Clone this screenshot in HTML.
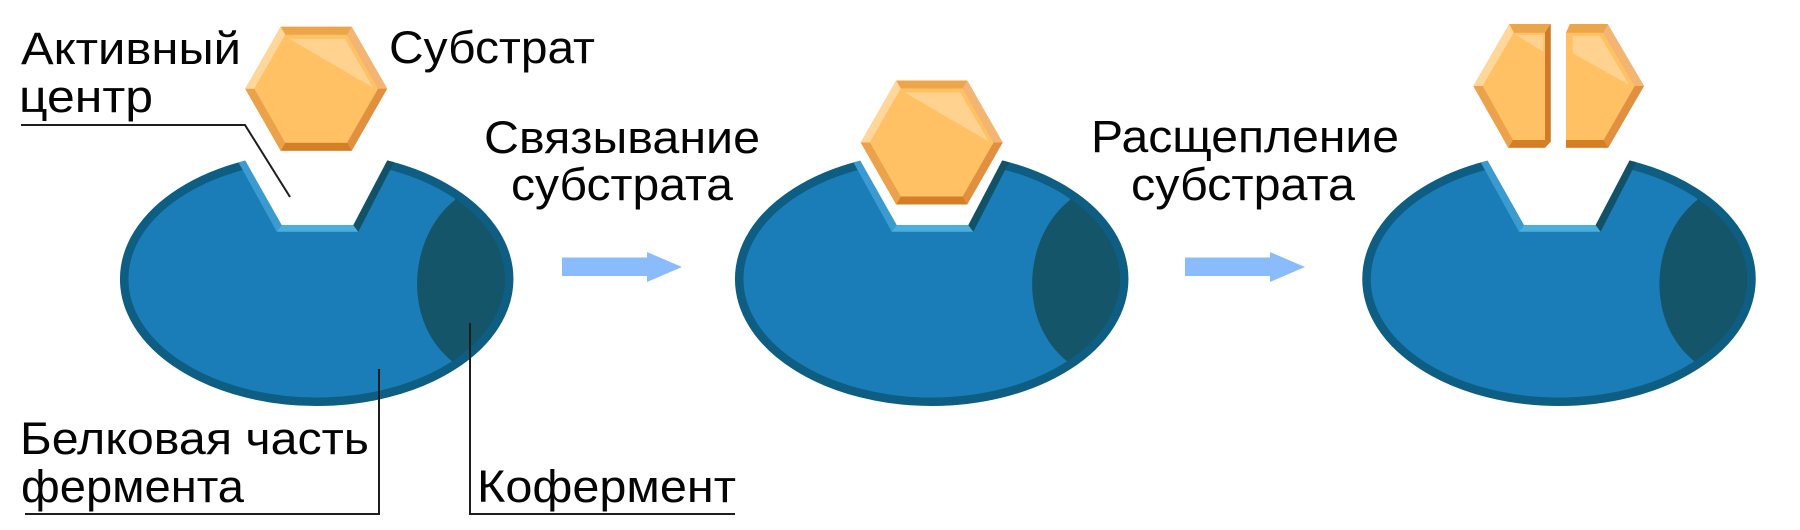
<!DOCTYPE html>
<html>
<head>
<meta charset="utf-8">
<style>
html,body{margin:0;padding:0;background:#fff;width:1800px;height:530px;overflow:hidden}
svg{display:block}
text{font-family:"Liberation Sans","DejaVu Sans",sans-serif;font-size:45px;fill:#050505}
</style>
</head>
<body>
<svg width="1800" height="530" viewBox="0 0 1800 530" xmlns="http://www.w3.org/2000/svg">
<defs>
  <clipPath id="ci" clipPathUnits="userSpaceOnUse"><ellipse cx="0" cy="279" rx="192.5" ry="122.8"/></clipPath>
  <clipPath id="co" clipPathUnits="userSpaceOnUse"><ellipse cx="0" cy="279" rx="196.7" ry="127"/></clipPath>
  <g id="enz">
    <ellipse cx="0" cy="279" rx="192.5" ry="122.8" fill="#1a7db7"/>
    <path clip-path="url(#ci)" d="M140,150 L138.3,200 C93.3,235 83.3,320 136.3,362 L140,420 L220,420 L220,150 Z" fill="#14556a"/>
    <ellipse cx="0" cy="279" rx="192.5" ry="122.8" fill="none" stroke="#0d5e82" stroke-width="8.5"/>
    <g clip-path="url(#co)">
      <polygon points="-90.6,140 -40,231.7 -35,225 -83,140" fill="#3b9bd0"/>
      <polygon points="-40,231.7 41.6,231.7 36.6,225 -35,225" fill="#4aafdc"/>
      <polygon points="41.6,231.7 88.9,140 81.2,140 36.6,225" fill="#135166"/>
    </g>
    <polygon points="-83,140 -35,225 36.6,225 81.2,140" fill="#fff"/>
  </g>
  <g id="hex">
    <polygon points="-71,0 -35.5,-62 35.5,-62 71,0 35.5,62 -35.5,62" fill="#e9a24a"/>
    <polygon points="-35.5,-62 35.5,-62 30.9,-54 -30.9,-54" fill="#eba64a"/>
    <polygon points="35.5,-62 71,0 61.8,0 30.9,-54" fill="#f3b571"/>
    <polygon points="71,0 35.5,62 30.9,54 61.8,0" fill="#e0903f"/>
    <polygon points="35.5,62 -35.5,62 -30.9,54 30.9,54" fill="#d47f26"/>
    <polygon points="-35.5,62 -71,0 -61.8,0 -30.9,54" fill="#eba24a"/>
    <polygon points="-71,0 -35.5,-62 -30.9,-54 -61.8,0" fill="#ffd79b"/>
    <polygon points="-61.8,0 -30.9,-54 30.9,-54 61.8,0 30.9,54 -30.9,54" fill="#ffc163"/>
    <polygon points="-27,-50 28.5,-50 57,-1" fill="#ffd28f"/>
  </g>
</defs>

<!-- enzymes -->
<use href="#enz" transform="translate(316.7,0)"/>
<use href="#enz" transform="translate(931.7,0)"/>
<use href="#enz" transform="translate(1559,0)"/>

<!-- substrate hexagons -->
<use href="#hex" transform="translate(316.2,88.7)"/>
<use href="#hex" transform="translate(931.7,142.5)"/>

<!-- split substrate -->
<g transform="translate(1558.7,86)">
  <!-- left half -->
  <polygon points="-85.4,0 -49.4,-62 -8,-62 -8,55.7 -13.7,61.7 -50.4,61.7" fill="#e9a24a"/>
  <polygon points="-49.4,-62 -8,-62 -13.7,-53.3 -44.8,-53.3" fill="#eba64a"/>
  <polygon points="-8,-62 -8,55.7 -13.7,54 -13.7,-53.3" fill="#cf7a28"/>
  <polygon points="-13.7,54 -8,55.7 -13.7,61.7 -50.4,61.7 -45.8,54" fill="#d47f26"/>
  <polygon points="-50.4,61.7 -85.4,0 -76,0 -45.8,54" fill="#eba24a"/>
  <polygon points="-85.4,0 -49.4,-62 -44.8,-53.3 -76,0" fill="#ffd79b"/>
  <polygon points="-76,0 -44.8,-53.3 -13.7,-53.3 -13.7,54 -45.8,54" fill="#ffc163"/>
  <polygon points="-42.7,-51 -15.4,-51 -15.4,-34.3" fill="#ffd28f"/>
  <!-- right half -->
  <polygon points="7.3,-53.3 11.3,-62 49,-62 85.3,0 49.6,61.7 7.3,61.7" fill="#e9a24a"/>
  <polygon points="7.3,-53.3 11.3,-62 49,-62 44.5,-53.3" fill="#eba64a"/>
  <polygon points="49,-62 85.3,0 76,0 44.5,-53.3" fill="#f3b571"/>
  <polygon points="85.3,0 49.6,61.7 45,54 76,0" fill="#e0903f"/>
  <polygon points="49.6,61.7 7.3,61.7 7.3,54 45,54" fill="#d47f26"/>
  <polygon points="7.3,-53.3 44.5,-53.3 76,0 45,54 7.3,54" fill="#ffc163"/>
  <polygon points="14,-50 41.3,-50 70.6,-1 14,-32.7" fill="#ffd28f"/>
</g>

<!-- arrows -->
<polygon points="562,257.5 647,257.5 647,252 682,267 647,282 647,276 562,276" fill="#8abcfd"/>
<polygon points="1185,257.5 1270,257.5 1270,252 1305,267 1270,282 1270,276 1185,276" fill="#8abcfd"/>

<!-- leader lines -->
<polyline points="21,125 245,125 290,197" fill="none" stroke="#1e1e1e" stroke-width="2"/>
<polyline points="25,514 379,514 379,369" fill="none" stroke="#1e1e1e" stroke-width="2"/>
<polyline points="470,323 470,514 735,514" fill="none" stroke="#1e1e1e" stroke-width="2"/>

<!-- labels -->
<text x="21" y="64" textLength="220" lengthAdjust="spacingAndGlyphs">Активный</text>
<text x="19" y="112" textLength="134" lengthAdjust="spacingAndGlyphs">центр</text>
<text x="389" y="63" textLength="206" lengthAdjust="spacingAndGlyphs">Субстрат</text>
<text x="484" y="153" textLength="276" lengthAdjust="spacingAndGlyphs">Связывание</text>
<text x="511" y="200" textLength="222" lengthAdjust="spacingAndGlyphs">субстрата</text>
<text x="1091" y="152" textLength="308" lengthAdjust="spacingAndGlyphs">Расщепление</text>
<text x="1131" y="200" textLength="224" lengthAdjust="spacingAndGlyphs">субстрата</text>
<text x="20" y="454" textLength="349" lengthAdjust="spacingAndGlyphs">Белковая часть</text>
<text x="21" y="502" textLength="223" lengthAdjust="spacingAndGlyphs">фермента</text>
<text x="477" y="502" textLength="259" lengthAdjust="spacingAndGlyphs">Кофермент</text>
</svg>
</body>
</html>
